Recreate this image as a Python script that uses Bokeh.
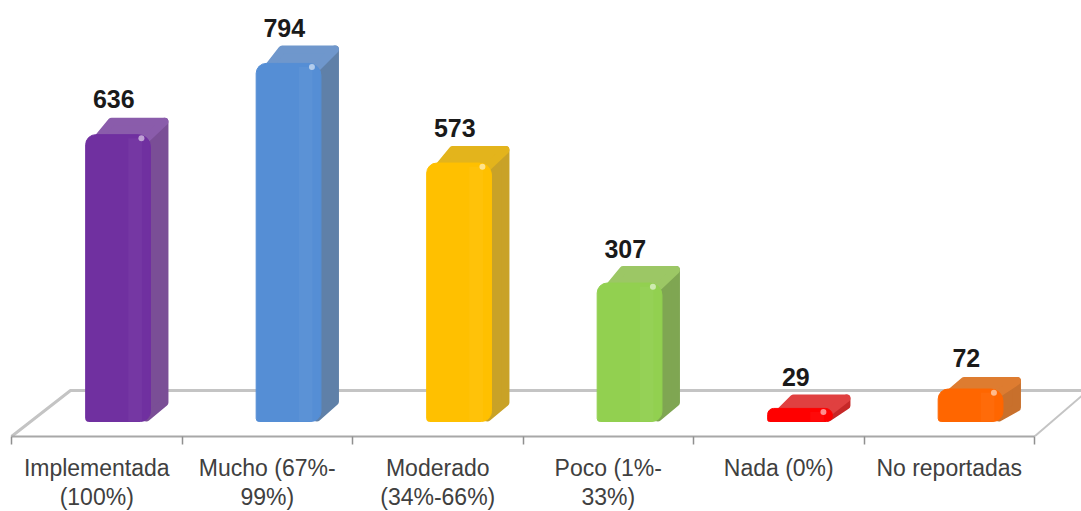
from bokeh.plotting import figure
from bokeh.embed import file_html
from bokeh.resources import INLINE
from bokeh.models import LinearAxis, FixedTicker, Range1d, ColumnDataSource
from bokeh.core.properties import value

categories = ["Implementada\n(100%)", "Mucho (67%-\n99%)", "Moderado\n(34%-66%)", "Poco (1%-\n33%)", "Nada (0%)", "No reportadas"]
values = [636, 794, 573, 307, 29, 72]
front_colors = ["#7030A0", "#558ED5", "#FFC000", "#92D050", "#FF0000", "#FF6600"]
side_colors = ["#7A4E96", "#5F80A8", "#C9A227", "#7FA652", "#C62828", "#C8702C"]
top_colors = ["#8A5CAB", "#6F97CC", "#E3B41C", "#9CC765", "#E04040", "#DE7C30"]
depth_px = [17, 18, 17, 17, 14, 12]

PX_X = 170.5     # px per category
PX_Y = 0.451     # px per unit
DX = 18 / PX_X
IX = 4 / PX_X
IY = 4 / PX_Y
x0 = [i + 0.435 for i in range(6)]
x1 = [i + 0.815 for i in range(6)]
xc = [i + 0.625 for i in range(6)]

p = figure(frame_width=1081, frame_height=436, output_backend="svg", toolbar_location=None,
           x_range=Range1d((0 - 11) / PX_X, (1081 - 11) / PX_X),
           y_range=Range1d(-15 / PX_Y, 421 / PX_Y),
           min_border_left=0, min_border_right=0, min_border_top=0, min_border_bottom=0,
           x_axis_type=None, y_axis_type=None, outline_line_color=None)
p.grid.visible = False
p.background_fill_color = "white"
p.border_fill_color = "white"

# floor
floor_y_front = -15 / PX_Y
floor_y_back = 31 / PX_Y
floor_col = "#c4c4c4"
p.line([0, 59 / PX_X, 6.3], [floor_y_front, floor_y_back, floor_y_back], line_color=floor_col, line_width=3)
p.line([6, 6.3], [floor_y_front, floor_y_front + 44 / PX_Y], line_color=floor_col, line_width=2)

# axis (front floor edge, ticks, labels)
ax = LinearAxis(ticker=FixedTicker(ticks=[i + 0.5 for i in range(6)], minor_ticks=list(range(7))),
                bounds=(0, 6))
ax.major_label_overrides = {i + 0.5: c for i, c in enumerate(categories)}
ax.axis_line_color = "#a8a8a8"
ax.axis_line_width = 2
ax.major_tick_line_color = None
ax.minor_tick_line_color = "#909090"
ax.minor_tick_line_width = 1.5
ax.minor_tick_out = 8
ax.minor_tick_in = 0
ax.major_tick_out = 0
ax.major_tick_in = 0
ax.major_label_standoff = 10
ax.major_label_text_font = "Liberation Sans"
ax.major_label_text_font_size = "23px"
ax.major_label_text_color = "#404040"
ax.major_label_text_line_height = 1.15
ax.major_label_orientation = "horizontal"
p.add_layout(ax, "below")

# side and top faces
for i, v in enumerate(values):
    dy = depth_px[i] / PX_Y
    p.patch([x1[i] - IX, x1[i] + DX - IX, x1[i] + DX - IX, x1[i] - IX],
            [IY, dy + IY * 0.5, v + dy - IY, v],
            fill_color=side_colors[i], line_color=side_colors[i], line_width=8, line_join="round")
    p.patch([x0[i] + 3 * IX, x0[i] + DX + 2 * IX, x1[i] + DX - IX, x1[i] - IX],
            [v - IY, v + dy - IY, v + dy - IY, v - IY],
            fill_color=top_colors[i], line_color=top_colors[i], line_width=8, line_join="round")

# front faces
src = ColumnDataSource(dict(x=xc, top=values, color=front_colors))
p.vbar(x="x", top="top", bottom=0, width=0.38, source=src, fill_color="color", line_color="color",
       line_width=1, border_radius=dict(top_left=10, top_right=12, bottom_left=3, bottom_right=10))

# soft shading on front face
lx = [a + 0.29 for a in x0]
p.vbar(x=lx, top=[max(v - 8, 0) for v in values], bottom=0, width=0.08, fill_color="white", fill_alpha=0.035, line_color=None)
p.scatter(x=[b - 0.053 for b in x1], y=[v - 8 for v in values], size=6, marker="circle",
          fill_color="white", fill_alpha=0.55, line_color=None)

# value labels
p.text(x=[i + 0.6 for i in range(6)], y=values,
       text=[str(v) for v in values], text_font=value("Liberation Sans"), text_font_style="bold",
       text_font_size="25px", text_color="#1a1a1a", text_align="center", text_baseline="middle",
       y_offset=[-36, -35, -35, -34, -31, -31])

open("out.html", "w").write(file_html(p, INLINE))
